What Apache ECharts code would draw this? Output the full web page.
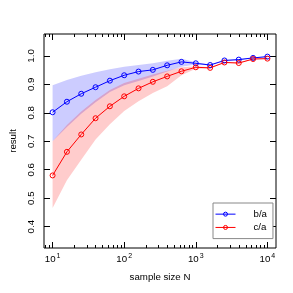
<!DOCTYPE html>
<html><head><meta charset="utf-8">
<script src="https://cdn.jsdelivr.net/npm/echarts@6/dist/echarts.min.js"></script>
<style>html,body{margin:0;padding:0;background:#fff}#c{width:293px;height:293px}</style>
</head><body><div id="c"></div>
<script>
// sample sizes N
const sampleN = [10, 15.85, 25.12, 39.81, 63.1, 100, 158.5, 251.2, 398.1, 631, 1000, 1585, 2512, 3981, 6310, 10000];
// series b/a
const ba = [0.802, 0.839, 0.867, 0.890, 0.913, 0.932, 0.945, 0.951, 0.967, 0.979, 0.974, 0.968, 0.984, 0.987, 0.993, 0.9975];
const baUpper = [0.897, 0.915, 0.930, 0.943, 0.953, 0.962, 0.968, 0.974, 0.983, 0.990, 0.978, 0.970, 0.986, 0.989, 0.994, 0.999];
const baLower = [0.700, 0.750, 0.797, 0.837, 0.873, 0.897, 0.912, 0.928, 0.945, 0.962, 0.970, 0.966, 0.982, 0.985, 0.991, 0.996];
// series c/a
const ca = [0.580, 0.663, 0.724, 0.781, 0.823, 0.858, 0.886, 0.909, 0.928, 0.946, 0.960, 0.958, 0.977, 0.975, 0.989, 0.9905];
const caUpper = [0.700, 0.757, 0.805, 0.845, 0.880, 0.905, 0.920, 0.935, 0.948, 0.960, 0.964, 0.960, 0.979, 0.977, 0.991, 0.992];
const caLower = [0.466, 0.563, 0.635, 0.706, 0.760, 0.806, 0.841, 0.870, 0.893, 0.932, 0.955, 0.956, 0.975, 0.973, 0.987, 0.989];
// tick labels
const xMajorExp = [1, 2, 3, 4];
const yTicks = [0.4, 0.5, 0.6, 0.7, 0.8, 0.9, 1.0];

const lx = sampleN.map(v => Math.log10(v));
const pts = arr => arr.map((v, i) => [lx[i], v]);

const minorVals = [];
for (let e = 0; e <= 4; e++) for (let m = 2; m <= 9; m++) {
  const v = e + Math.log10(m);
  if (v > 0.88 && v < 4.12) minorVals.push(v);
}
const XMIN = 0.88, XMAX = 4.12, YMIN = 0.325, YMAX = 1.077;
const FONT = 'Liberation Sans, Arial, sans-serif';
const FS = 9.7;

function xAx(pos, vals, len, labels) {
  return {
    type: 'value', min: XMIN, max: XMAX, position: pos,
    axisLine: {show: false}, splitLine: {show: false},
    axisTick: {show: true, inside: true, length: len, customValues: vals, lineStyle: {color: '#000', width: 1}},
    axisLabel: labels ? {
      show: true, customValues: vals, margin: 5, fontFamily: FONT,
      formatter: v => '{b|10}{s|' + Math.round(v) + '}',
      rich: {b: {fontSize: FS, color: '#000', fontFamily: FONT}, s: {fontSize: 7, color: '#000', fontFamily: FONT, verticalAlign: 'top', padding: [0, 0, 6, 1]}}
    } : {show: false}
  };
}
const xAxes = [xAx('bottom', xMajorExp, 6, true), xAx('bottom', minorVals, 3, false), xAx('top', xMajorExp, 6, false), xAx('top', minorVals, 3, false)];
Object.assign(xAxes[0], {name: 'sample size N', nameLocation: 'middle', nameGap: 24, nameTextStyle: {fontSize: FS, color: '#000', fontFamily: FONT}});

function yAx(pos, labels) {
  return {
    type: 'value', min: YMIN, max: YMAX, position: pos,
    axisLine: {show: false}, splitLine: {show: false},
    axisTick: {show: true, inside: true, length: 6, customValues: yTicks, lineStyle: {color: '#000', width: 1}},
    axisLabel: labels ? {show: true, customValues: yTicks, rotate: 90, margin: 8, fontSize: FS, color: '#000', fontFamily: FONT, formatter: v => v.toFixed(1)} : {show: false}
  };
}
const yAxes = [yAx('left', true), yAx('right', false)];
Object.assign(yAxes[0], {name: 'result', nameLocation: 'middle', nameRotate: 90, nameGap: 26, nameTextStyle: {fontSize: FS, color: '#000', fontFamily: FONT}});

function band(name, lower, upper, color) {
  return {
    type: 'custom', name: name, silent: true, z: 1, clip: true,
    data: [[lx[0], lower[0]]],
    renderItem: (params, api) => {
      const poly = [];
      for (let i = 0; i < lx.length; i++) poly.push(api.coord([lx[i], upper[i]]));
      for (let i = lx.length - 1; i >= 0; i--) poly.push(api.coord([lx[i], lower[i]]));
      return {type: 'polygon', shape: {points: poly}, style: {fill: color, stroke: null}};
    }
  };
}
function line(name, data, color) {
  return {type: 'line', name: name, data: pts(data), symbol: 'circle', symbolSize: 5, z: 3,
    lineStyle: {color: color, width: 1}, itemStyle: {color: 'rgba(0,0,0,0)', borderColor: color, borderWidth: 1}};
}

const chart = echarts.init(document.getElementById('c'), null, {renderer: 'canvas'});
chart.setOption({
  animation: false,
  backgroundColor: '#fff',
  grid: {left: 34, right: 17, top: 34, bottom: 45, show: true, borderColor: '#000', borderWidth: 1, backgroundColor: 'transparent'},
  xAxis: xAxes,
  yAxis: yAxes,
  legend: {
    data: ['b/a', 'c/a'], orient: 'vertical', left: 213, top: 203,
    padding: [6, 6, 6, 2], itemGap: 3, itemWidth: 20, itemHeight: 5,
    borderColor: '#888', borderWidth: 1, backgroundColor: '#fff',
    itemStyle: {color: 'rgba(0,0,0,0)', borderWidth: 1},
    lineStyle: {width: 1},
    textStyle: {fontSize: FS, color: '#000', fontFamily: FONT, lineHeight: 10.3, padding: [0, 0, 0, 13]}
  },
  series: [
    band('bband', baLower, baUpper, 'rgba(0,0,255,0.2)'),
    band('rband', caLower, caUpper, 'rgba(255,0,0,0.2)'),
    line('b/a', ba, '#0000ff'),
    line('c/a', ca, '#ff0000')
  ]
});
</script></body></html>
